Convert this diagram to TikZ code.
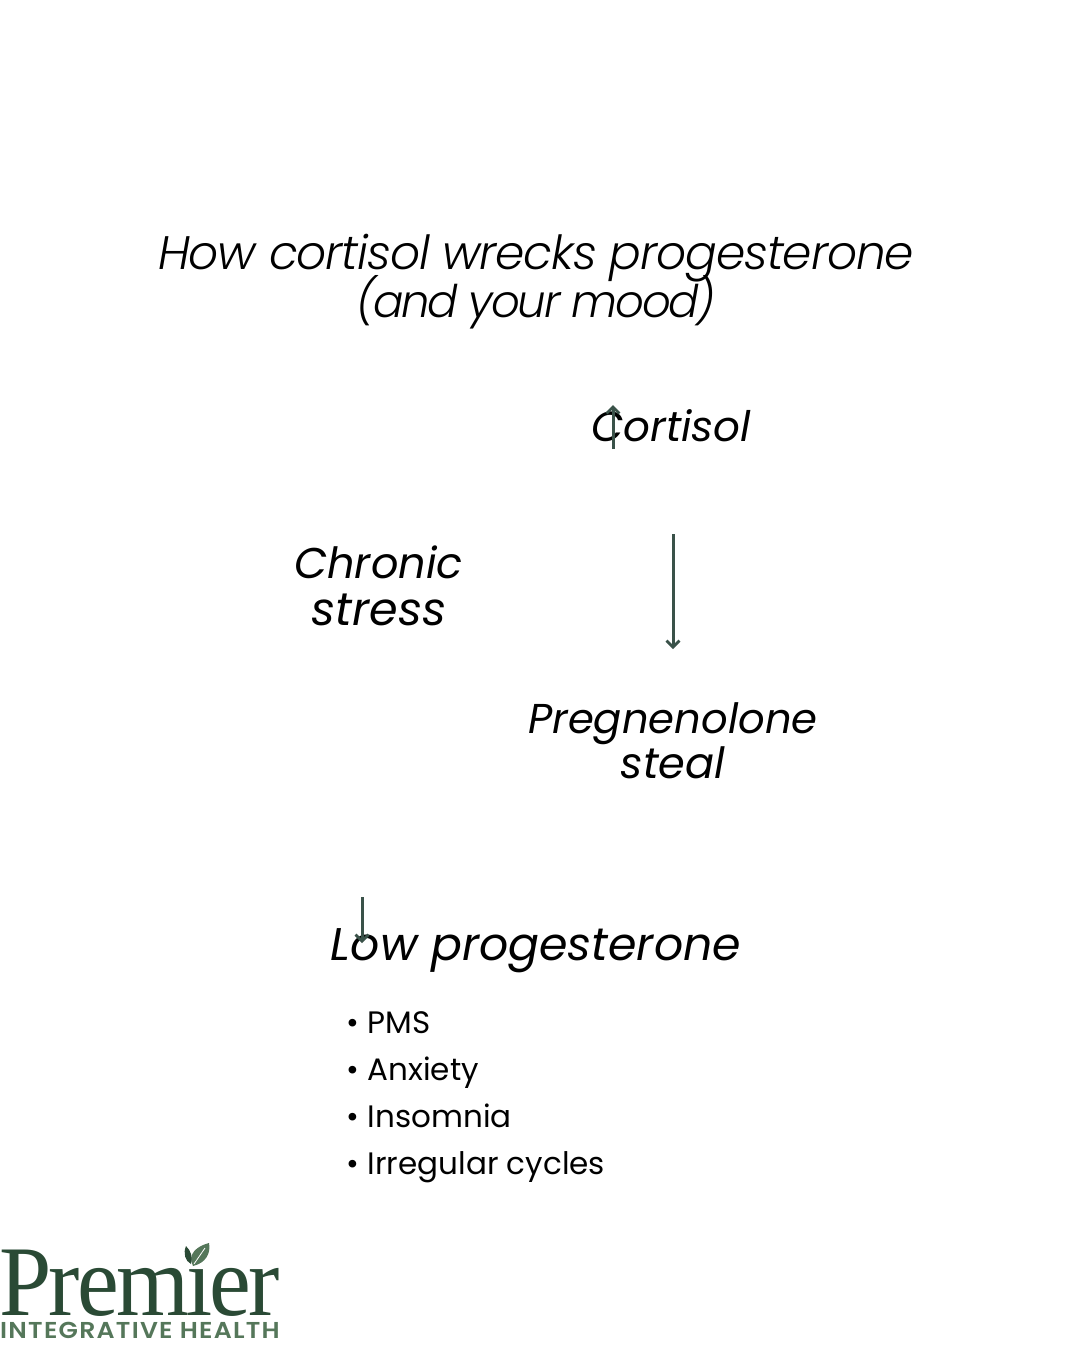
\documentclass[tikz,border=0pt]{standalone}
\usepackage{graphicx}
\usepackage{fontspec}
\setmainfont{Poppins}[ItalicFont={Poppins Italic}]
\newfontfamily\lightit[ItalicFont={Poppins Light Italic}]{Poppins Light}
\newfontfamily\logoserif{Liberation Serif}
\newfontfamily\logosans{Poppins SemiBold}
\definecolor{arrowgreen}{HTML}{3A5249}
\definecolor{logodark}{HTML}{2A4A35}
\definecolor{logolight}{HTML}{55775A}
\usetikzlibrary{arrows.meta}
\tikzset{
  x=1pt,y=-1pt,
  heading/.style={anchor=base,align=center,inner sep=0pt,text=black},
  listitem/.style={anchor=base west,inner sep=0pt,font=\fontsize{31}{34}\selectfont,text=black},
  flow/.style={draw=arrowgreen,line width=3pt,-{Straight Barb[length=6.5pt,width=13pt,line width=2.8pt]}}
}
\begin{document}
\begin{tikzpicture}
\useasboundingbox (0,0) rectangle (1080,1350);
\node[heading,font=\lightit\fontsize{47}{48}\selectfont\itshape\addfontfeature{LetterSpace=-2.3}] (title1) at (536,269) {How cortisol wrecks progesterone};
\node[heading,font=\lightit\fontsize{45}{48}\selectfont\itshape\addfontfeature{LetterSpace=-4.9}] (title2) at (536,317) {(and your mood)};
\node[heading,font=\fontsize{42}{46}\selectfont\itshape] (cortisol) at (671,441) {Cortisol};
\node[heading,font=\fontsize{43}{46}\selectfont\itshape] (stress1) at (378.5,578) {Chronic};
\node[heading,font=\fontsize{46}{46}\selectfont\itshape] (stress2) at (379,625) {stress};
\node[heading,font=\fontsize{41.7}{45}\selectfont\itshape] (steal1) at (673,733) {Pregnenolone};
\node[heading,font=\fontsize{43}{45}\selectfont\itshape] (steal2) at (673,778) {steal};
\node[heading,font=\fontsize{45.8}{46}\selectfont\itshape] (low) at (536,960) {Low progesterone};
\node[listitem] (a) at (346.5,1033) {• PMS};
\node[listitem] (b) at (346.5,1080) {• Anxiety};
\node[listitem] (c) at (346.5,1127) {• Insomnia};
\node[listitem] (d) at (346.5,1174) {• Irregular cycles};
\coordinate (u1) at (613,449); \coordinate (u2) at (613,405);
\coordinate (d1) at (673,534); \coordinate (d2) at (673,649);
\coordinate (l1) at (362,897); \coordinate (l2) at (362,943);
\draw[flow] (u1) -- (u2);
\draw[flow] (d1) -- (d2);
\draw[flow] (l1) -- (l2);
% logo
\node[anchor=base west,inner sep=0pt,text=logodark,font=\logoserif\fontsize{100}{100}\selectfont] (premier) at (-1,1315) {\scalebox{0.94}[1]{\addfontfeature{LetterSpace=-3}Premier}};
\node[anchor=base west,inner sep=0pt,text=logolight,font=\logosans\fontsize{23}{24}\selectfont] (tag) at (0,1338) {\scalebox{1.095}[1]{\addfontfeature{LetterSpace=5}INTEGRATIVE HEALTH}};
\fill[white] (197,1254) circle (8);
\fill[logolight] (193,1266) .. controls (206,1263) and (211,1253) .. (209,1243) .. controls (197,1246) and (187,1254) .. (193,1266) -- cycle;
\draw[white,line width=.8pt] (194,1264) -- (205,1248);
\fill[logodark] (191,1264) .. controls (193,1257) and (191,1251) .. (186,1246) .. controls (183,1253) and (185,1261) .. (191,1264) -- cycle;
\end{tikzpicture}
\end{document}
